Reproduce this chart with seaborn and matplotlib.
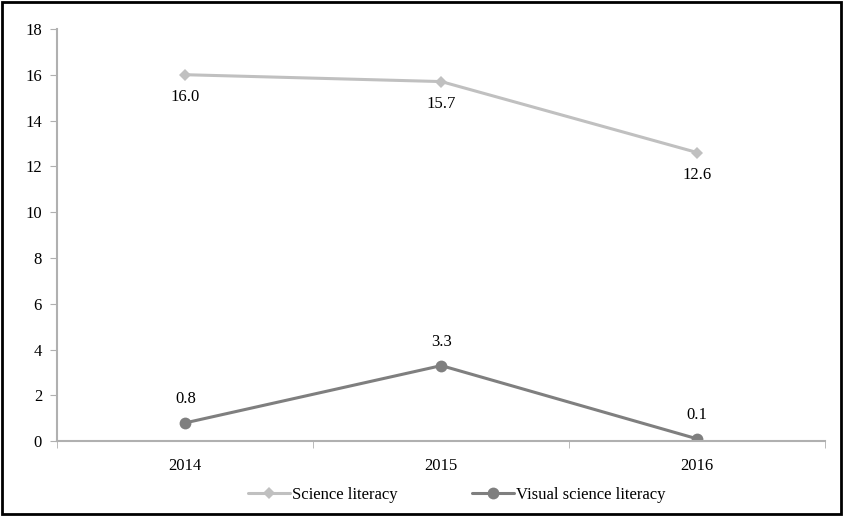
import seaborn as sns
import matplotlib.pyplot as plt
import pandas as pd
from matplotlib.patches import Rectangle

years = ["2014", "2015", "2016"]
science = [16.0, 15.7, 12.6]
visual = [0.8, 3.3, 0.1]
series_names = ["Science literacy", "Visual science literacy"]

sns.set_style("white")
plt.rcParams['font.family'] = ['Liberation Serif', 'DejaVu Serif']
plt.rcParams['text.color'] = 'black'
plt.rcParams['xtick.color'] = 'black'
plt.rcParams['ytick.color'] = 'black'

df = pd.DataFrame({
    "pos": list(range(len(years))) * 2,
    "value": science + visual,
    "series": [series_names[0]] * 3 + [series_names[1]] * 3,
})

fig = plt.figure(figsize=(8.43, 5.16), dpi=100)
ax = fig.add_axes([0.068, 0.145, 0.911, 0.799])

palette = {series_names[0]: "#c0c0c0", series_names[1]: "#7f7f7f"}
markers = {series_names[0]: "D", series_names[1]: "o"}
sns.lineplot(data=df, x="pos", y="value", hue="series", style="series",
             palette=palette, markers=markers, dashes=False, lw=2.2,
             markersize=8.5, markeredgewidth=0, ax=ax)
# diamond a bit smaller than the circle
for line in ax.lines:
    if line.get_marker() == "D":
        line.set_markersize(6.5)

for i, v in enumerate(science):
    ax.annotate(f"{v:.1f}", (i, v), xytext=(0, -16), textcoords="offset points",
                ha="center", va="center", fontsize=12)
for i, v in enumerate(visual):
    ax.annotate(f"{v:.1f}", (i, v), xytext=(0, 17), textcoords="offset points",
                ha="center", va="center", fontsize=12)

ax.set_xlim(-0.5, 2.5)
ax.set_ylim(0, 18)
ax.set_yticks(range(0, 19, 2))
ax.set_xticks(range(len(years)))
ax.set_xticklabels(years)
ax.set_xticks([-0.5, 0.5, 1.5, 2.5], minor=True)
ax.tick_params(axis="x", which="major", length=0, labelsize=12, pad=12)
ax.tick_params(axis="x", which="minor", length=5, color="#b0b0b0", direction="out", bottom=True)
ax.tick_params(axis="y", length=5, color="#b0b0b0", direction="out", left=True, labelsize=12, pad=6)
ax.set_xlabel("")
ax.set_ylabel("")

for s in ["top", "right"]:
    ax.spines[s].set_visible(False)
for s in ["left", "bottom"]:
    ax.spines[s].set_color("#b0b0b0")
    ax.spines[s].set_linewidth(1.5)

leg = ax.legend(loc="upper center", bbox_to_anchor=(0.52, -0.075), ncol=2, frameon=False,
                fontsize=12, handlelength=2.5, handletextpad=0.1, columnspacing=4.5)

fig.patches.append(Rectangle((0.002, 0.003), 0.996, 0.994, transform=fig.transFigure,
                             fill=False, edgecolor="black", lw=2))

fig.savefig("out.png", dpi=100)
